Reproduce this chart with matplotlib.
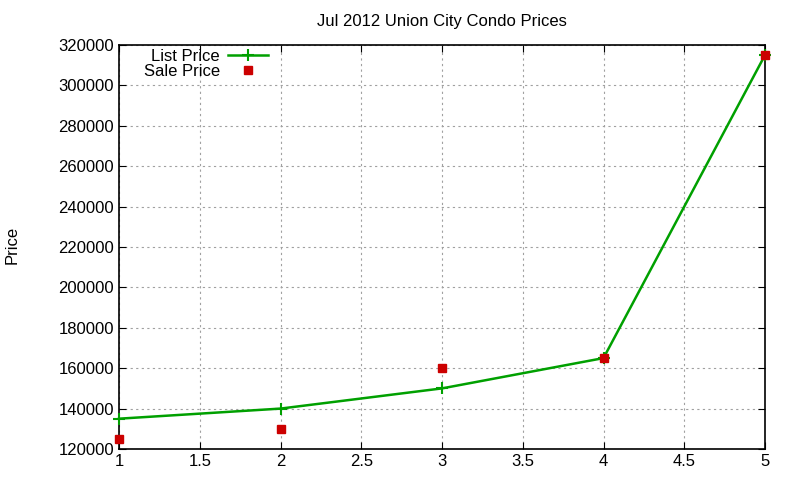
import matplotlib
matplotlib.use("Agg")
import matplotlib.pyplot as plt

plt.rcParams["font.family"] = ["Liberation Sans", "DejaVu Sans"]

# dados
x_vals = [1, 2, 3, 4, 5]
list_price = [135000, 140000, 150000, 165000, 315000]
sale_price = [125000, 130000, 160000, 165000, 315000]

fig = plt.figure(figsize=(8, 4.8), dpi=100)
ax = fig.add_axes([0.14875, 0.0646, 0.8075, 0.8417])

ax.plot(x_vals, list_price, color="#00a000", linewidth=1.8, marker="+",
        markersize=8, markeredgewidth=1.5, label="List Price", clip_on=False,
        zorder=3)
ax.plot(x_vals, sale_price, linestyle="none", marker="s", markersize=6,
        color="#cc0000", label="Sale Price", clip_on=False, zorder=4)

ax.set_xlim(1, 5)
ax.set_ylim(120000, 320000)
ax.set_xticks([1, 1.5, 2, 2.5, 3, 3.5, 4, 4.5, 5])
ax.set_xticklabels(["1", "1.5", "2", "2.5", "3", "3.5", "4", "4.5", "5"])
ax.set_yticks(range(120000, 320001, 20000))
ax.tick_params(direction="in", top=True, right=True, labelsize=12, length=5)
ax.grid(True, color="#a0a0a0", linestyle=(0, (2, 3)), linewidth=0.8)
for s in ax.spines.values():
    s.set_linewidth(1.2)

ax.set_title("Jul 2012 Union City Condo Prices", fontsize=12, pad=14)
fig.text(0.006, 0.49, "Price", rotation=90, fontsize=12, va="center")

leg = ax.legend(loc="upper left", bbox_to_anchor=(0.02, 1.02), frameon=False,
                markerfirst=False, fontsize=12, handlelength=2.4,
                labelspacing=0.0, borderaxespad=0.3, handletextpad=0.5)
for t in leg.get_texts():
    t.set_ha("right")
leg._legend_box.align = "right"

fig.savefig("out.png", dpi=100)
